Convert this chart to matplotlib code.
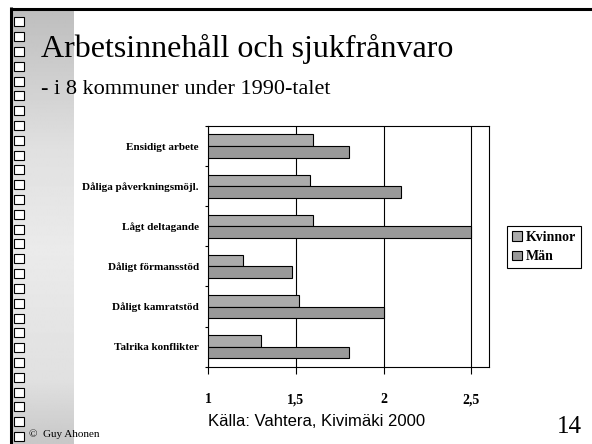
import matplotlib
matplotlib.use('Agg')
import matplotlib.pyplot as plt
import matplotlib.patches as patches
import numpy as np

# Data
kategorier = ['Ensidigt arbete', 'Dåliga påverkningsmöjl.', 'Lågt deltagande',
              'Dåligt förmansstöd', 'Dåligt kamratstöd', 'Talrika konflikter']
kvinnor = [1.6, 1.58, 1.6, 1.2, 1.52, 1.3]
man = [1.8, 2.1, 2.5, 1.48, 2.0, 1.8]
serier = ['Kvinnor', 'Män']
xticks = [1, 1.5, 2, 2.5]
xticklabels = ['1', '1,5', '2', '2,5']

serif = 'Liberation Serif'
sans = 'Liberation Sans'

W, H = 592, 444
fig = plt.figure(figsize=(W / 100, H / 100), dpi=100)
fig.patch.set_facecolor('white')

# --- slide decoration (pixel coordinates) ---
deco = fig.add_axes([0, 0, 1, 1], zorder=0)
deco.axis('off')

yy = np.arange(10, H)
grad = np.interp(yy, [10, 150, 250, 380, 444], [0.745, 0.88, 0.92, 0.88, 0.78])
deco.imshow(np.repeat(grad[:, None], 2, axis=1), cmap='gray', vmin=0, vmax=1,
            extent=[12, 74, H, 10], aspect='auto', interpolation='bilinear')
deco.set_xlim(0, W)
deco.set_ylim(H, 0)

for k in range(29):
    deco.add_patch(patches.Rectangle((14, 17.3 + k * 14.81), 10, 9,
                                     facecolor='white', edgecolor='black', lw=0.8))
deco.plot([10, W], [8.6, 8.6], color='black', lw=2.2, solid_capstyle='butt')
deco.plot([11.3, 11.3], [7.5, H], color='black', lw=2.2, solid_capstyle='butt')

deco.text(41, 57, 'Arbetsinnehåll och sjukfrånvaro', fontsize=23, family=serif,
          ha='left', va='baseline')
deco.text(41, 94, '- i 8 kommuner under 1990-talet', fontsize=16, family=serif,
          ha='left', va='baseline')
deco.text(317, 421, 'Källa: Vahtera, Kivimäki 2000', fontsize=12, family=sans,
          ha='center', va='center')
deco.text(569, 427, '14', fontsize=18, family=serif, ha='center', va='center')
deco.text(29, 437, '©  Guy Ahonen', fontsize=8, family=serif, ha='left', va='baseline')

# --- chart ---
ax = fig.add_axes([208 / W, (H - 366.7) / H, (489 - 208) / W, (366.7 - 126) / H], zorder=1)
n = len(kategorier)
y = np.arange(n)[::-1]
h = 0.29
ax.barh(y + h / 2, np.array(kvinnor) - 1, left=1, height=h, color='#ABABAB',
        edgecolor='black', lw=0.8, label=serier[0], zorder=3)
ax.barh(y - h / 2, np.array(man) - 1, left=1, height=h, color='#999999',
        edgecolor='black', lw=0.8, label=serier[1], zorder=3)

ax.set_xlim(1, 2.6)
ax.set_ylim(-0.5, n - 0.5)
ax.set_xticks(xticks)
ax.set_xticklabels(xticklabels, fontsize=10, fontweight='bold', family=serif)
ax.tick_params(axis='x', direction='out', length=5, width=0.8, pad=14)
ax.xaxis.grid(True, color='black', lw=0.8, zorder=0)

ax.set_yticks(np.arange(-0.5, n, 1))
ax.set_yticklabels([])
ax.tick_params(axis='y', which='major', direction='out', length=2.5, width=0.8)
ax.set_yticks(y, minor=True)
ax.set_yticklabels(kategorier, minor=True, fontsize=8, fontweight='bold', family=serif)
ax.tick_params(axis='y', which='minor', length=0, pad=6.5)
for s in ax.spines.values():
    s.set_color('black')
    s.set_linewidth(0.8)

leg = fig.legend(handles=[patches.Patch(facecolor='#ABABAB', edgecolor='black', lw=0.8, label=serier[0]),
                          patches.Patch(facecolor='#999999', edgecolor='black', lw=0.8, label=serier[1])],
                 loc='center left', bbox_to_anchor=(507 / W, (H - 247) / H),
                 prop={'family': serif, 'weight': 'bold', 'size': 10},
                 fancybox=False, edgecolor='black', framealpha=1,
                 handlelength=0.7, handleheight=0.7, handletextpad=0.3,
                 borderpad=0.35, labelspacing=0.5, borderaxespad=0)
leg.get_frame().set_linewidth(0.8)

fig.savefig('out.png', dpi=100)
